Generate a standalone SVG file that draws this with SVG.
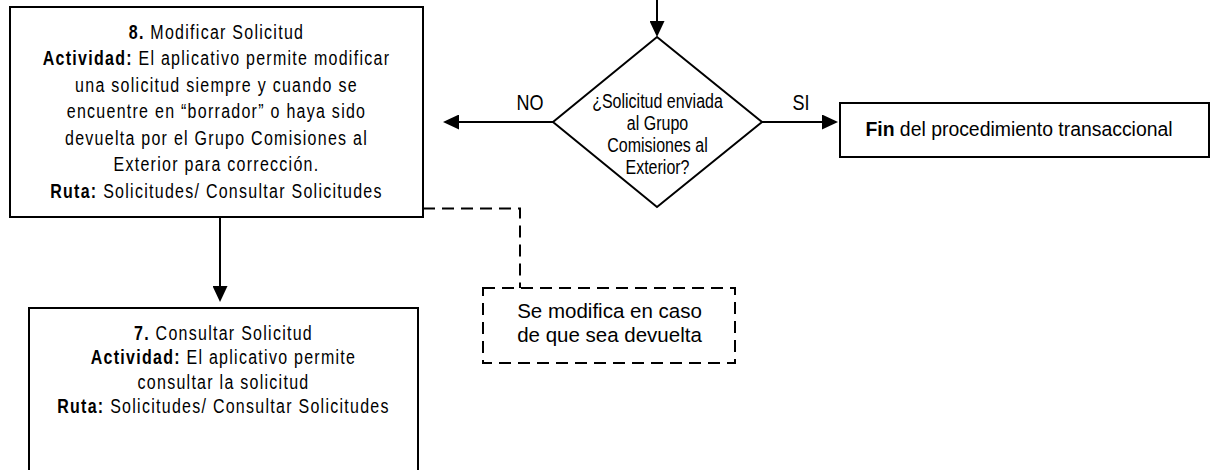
<svg xmlns="http://www.w3.org/2000/svg" width="1211" height="470" viewBox="0 0 1211 470">
<style>
  .box { fill: #ffffff; stroke: #000000; stroke-width: 2; }
  .dash { fill: none; stroke: #000000; stroke-width: 2; stroke-dasharray: 12 7; }
  .line { fill: none; stroke: #000000; stroke-width: 2; }
  .nar { font-family: "Liberation Sans", Arial, sans-serif; fill: #000000; text-anchor: middle; }
  .bx { font-size: 19.5px; letter-spacing: 1.55px; }
  .dec { font-size: 19.5px; }
  .lbl { font-size: 22px; }
  .reg { font-family: "Liberation Sans", Arial, sans-serif; fill: #000000; text-anchor: middle; }
  .b { font-weight: bold; }
</style>
<defs>
  <marker id="arrow" markerUnits="userSpaceOnUse" viewBox="0 0 16 15" refX="6" refY="7.5" markerWidth="16" markerHeight="15" orient="auto">
    <path d="M0,0 L16,7.5 L0,15 Z" fill="#000000"/>
  </marker>
</defs>

<g id="connectors">
  <line class="line" x1="657" y1="0" x2="657" y2="27" marker-end="url(#arrow)"/>
  <line class="line" x1="553" y1="122" x2="453" y2="122" marker-end="url(#arrow)"/>
  <line class="line" x1="762" y1="122" x2="828" y2="122" marker-end="url(#arrow)"/>
  <line class="line" x1="220" y1="217" x2="220" y2="292" marker-end="url(#arrow)"/>
  <polyline class="dash" points="423,208.5 520,208.5 520,288"/>
  <g transform="translate(530,0) scale(0.82,1)"><text class="nar lbl" x="0" y="110">NO</text></g>
  <g transform="translate(801,0) scale(0.82,1)"><text class="nar lbl" x="0" y="110">SI</text></g>
</g>

<g id="node-8">
  <rect class="box" x="10" y="7" width="413" height="210"/>
  <g transform="translate(216.5,0) scale(0.82,1)">
    <text class="nar bx" x="0" y="39"><tspan class="b">8.</tspan> Modificar Solicitud</text>
    <text class="nar bx" x="0" y="65.5"><tspan class="b">Actividad:</tspan> El aplicativo permite modificar</text>
    <text class="nar bx" x="0" y="92">una solicitud siempre y cuando se</text>
    <text class="nar bx" x="0" y="118.5">encuentre en “borrador” o haya sido</text>
    <text class="nar bx" x="0" y="145">devuelta por el Grupo Comisiones al</text>
    <text class="nar bx" x="0" y="171.5">Exterior para corrección.</text>
    <text class="nar bx" x="0" y="198"><tspan class="b">Ruta:</tspan> Solicitudes/ Consultar Solicitudes</text>
  </g>
</g>

<g id="node-decision">
  <polygon class="box" points="657,37 762,122 657,207 553,122"/>
  <g transform="translate(657.5,0) scale(0.82,1)">
    <text class="nar dec" x="0" y="108">¿Solicitud enviada</text>
    <text class="nar dec" x="0" y="130">al Grupo</text>
    <text class="nar dec" x="0" y="152">Comisiones al</text>
    <text class="nar dec" x="0" y="174">Exterior?</text>
  </g>
</g>

<g id="node-fin">
  <rect class="box" x="840" y="103" width="369" height="54"/>
  <text class="reg" x="1019" y="136" font-size="19.4"><tspan class="b">Fin</tspan> del procedimiento transaccional</text>
</g>

<g id="node-7">
  <rect class="box" x="29" y="308" width="389" height="180"/>
  <g transform="translate(223.5,0) scale(0.82,1)">
    <text class="nar bx" x="0" y="340"><tspan class="b">7.</tspan> Consultar Solicitud</text>
    <text class="nar bx" x="0" y="364.5"><tspan class="b">Actividad:</tspan> El aplicativo permite</text>
    <text class="nar bx" x="0" y="389">consultar la solicitud</text>
    <text class="nar bx" x="0" y="413.5"><tspan class="b">Ruta:</tspan> Solicitudes/ Consultar Solicitudes</text>
  </g>
</g>

<g id="node-note">
  <rect class="dash" x="483" y="288" width="252" height="75"/>
  <text class="reg" x="609.5" y="318" font-size="20.5">Se modifica en caso</text>
  <text class="reg" x="609.5" y="342" font-size="20.5">de que sea devuelta</text>
</g>
</svg>
